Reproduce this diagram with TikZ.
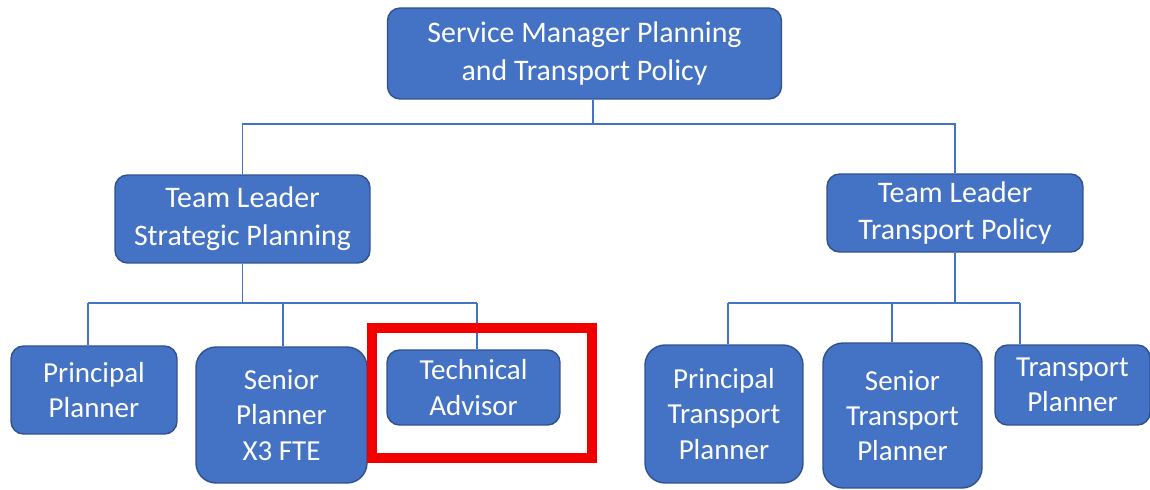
\documentclass[tikz,border=0pt]{standalone}
\usepackage{fontspec}
\setmainfont{Carlito}
\definecolor{boxblue}{HTML}{4472C4}
\definecolor{edgeblue}{HTML}{2F528F}
\definecolor{markred}{HTML}{F20000}

\begin{document}
\begin{tikzpicture}[x=0.02cm, y=-0.02cm,
    post/.style={draw=edgeblue, line width=0.8pt, fill=boxblue, rounded corners=0.25cm, text=white, align=center, inner sep=0pt, font=\fontsize{16.5}{20}\selectfont},
    head/.style={post, font=\fontsize{17}{21.5}\selectfont},
    tall/.style={rounded corners=0.4cm},
    link/.style={boxblue, line width=1pt}]
    \useasboundingbox (0,0) rectangle (1150,490);

    \node[head, minimum width=7.88cm, minimum height=1.82cm] (SM) at (584.5,53.5) {Service Manager Planning\\and Transport Policy};

    \node[head, minimum width=5.1cm, minimum height=1.76cm] (TLS) at (242.5,219) {Team Leader\\Strategic Planning};
    \node[head, minimum width=5.12cm, minimum height=1.56cm] (TLT) at (955,213) {Team Leader\\Transport Policy};

    \node[post, minimum width=3.32cm, minimum height=1.76cm] (PP) at (94,390) {Principal\\Planner};
    \node[post, tall, minimum width=3.42cm, minimum height=2.72cm] (SP) at (281.5,415) {Senior\\Planner\\X3 FTE};
    \node[post, minimum width=3.46cm, minimum height=1.5cm] (TA) at (473.5,387.5) {Technical\\Advisor};

    \node[post, tall, minimum width=3.16cm, minimum height=2.76cm] (PTP) at (724,414) {Principal\\Transport\\Planner};
    \node[post, tall, minimum width=3.18cm, minimum height=2.9cm] (STP) at (902.5,415.5) {Senior\\Transport\\Planner};
    \node[post, minimum width=3.1cm, minimum height=1.6cm] (TP) at (1072.5,385) {Transport\\Planner};

    % Connectors
    \coordinate (top) at (593,124);
    \draw[link] (SM.south -| top) -- (top);
    \draw[link] (TLS.north) |- (top) -| (TLT.north);

    \coordinate (left) at (243,303);
    \coordinate (ppdrop) at (88,303);
    \coordinate (spdrop) at (283,303);
    \coordinate (tadrop) at (477,303);
    \draw[link] (TLS.south) -- (TLS.south |- left);
    \draw[link] (ppdrop) -- (tadrop);
    \draw[link] (ppdrop) -- (PP.north -| ppdrop);
    \draw[link] (spdrop) -- (SP.north -| spdrop);
    \draw[link] (tadrop) -- (TA.north -| tadrop);

    \coordinate (right) at (956,303);
    \coordinate (ptpdrop) at (728,303);
    \coordinate (stpdrop) at (892,303);
    \coordinate (tpdrop) at (1020,303);
    \draw[link] (TLT.south) -- (TLT.south |- right);
    \draw[link] (ptpdrop) -- (tpdrop);
    \draw[link] (ptpdrop) -- (PTP.north -| ptpdrop);
    \draw[link] (stpdrop) -- (STP.north -| stpdrop);
    \draw[link] (tpdrop) -- (TP.north -| tpdrop);

    % Highlight
    \draw[markred, line width=0.2cm] (372,328) rectangle (592,458);

\end{tikzpicture}
\end{document}
